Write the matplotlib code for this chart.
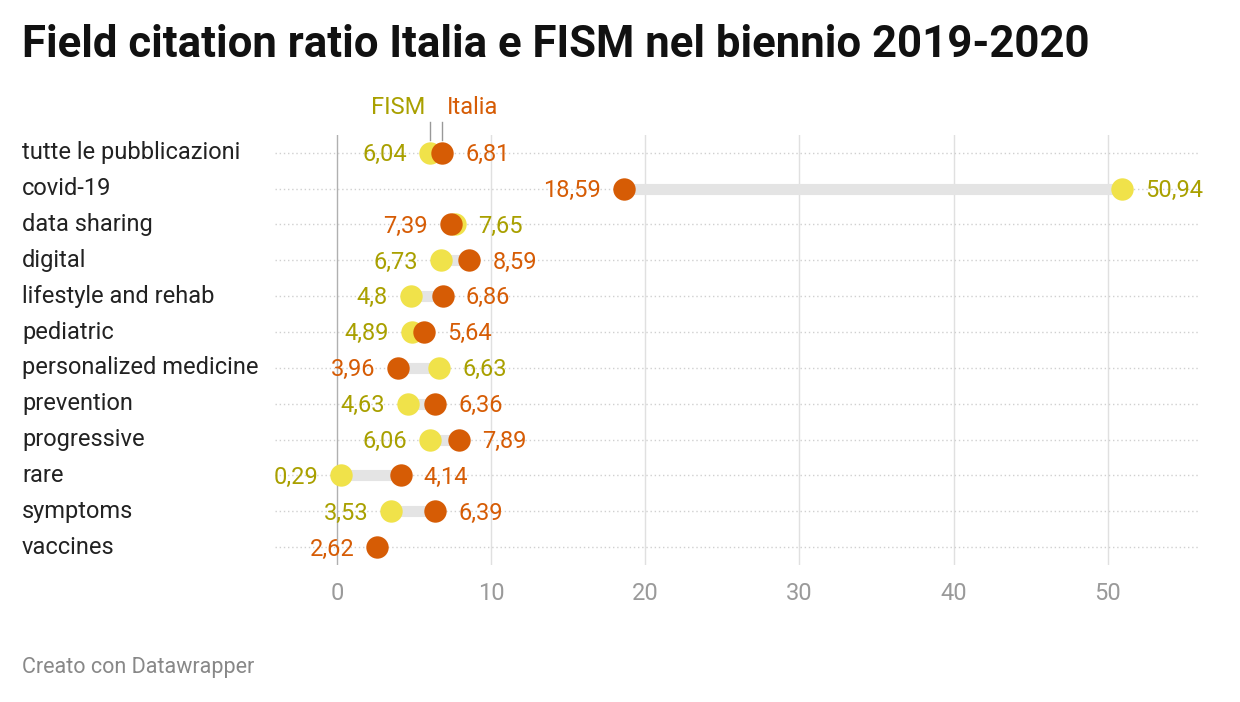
import numpy as np
import matplotlib
matplotlib.use("Agg")
import matplotlib.pyplot as plt

plt.rcParams['font.family'] = ['Roboto', 'DejaVu Sans']

categories = ["tutte le pubblicazioni", "covid-19", "data sharing", "digital",
              "lifestyle and rehab", "pediatric", "personalized medicine",
              "prevention", "progressive", "rare", "symptoms", "vaccines"]
fism = [6.04, 50.94, 7.65, 6.73, 4.8, 4.89, 6.63, 4.63, 6.06, 0.29, 3.53, np.nan]
italia = [6.81, 18.59, 7.39, 8.59, 6.86, 5.64, 3.96, 6.36, 7.89, 4.14, 6.39, 2.62]

C_FISM = "#f0e24a"
C_FISM_T = "#a9a000"
C_IT = "#d65c05"
C_IT_T = "#d65c05"
FS = 17


def fmt(v):
    return f"{v:g}".replace(".", ",")


fig = plt.figure(figsize=(12.4, 7.02), dpi=100)
ax = fig.add_axes([0.222, 0.195, 0.746, 0.613])
ax.set_xlim(-4, 56)
ax.set_ylim(len(categories) - 0.5, -0.5)

for x in [10, 20, 30, 40, 50]:
    ax.axvline(x, color="#e0e0e0", lw=1, zorder=0)
ax.axvline(0, color="#b0b0b0", lw=1, zorder=0)
for i in range(len(categories)):
    ax.axhline(i, color="#d0d0d0", lw=1, ls=(0, (1, 2)), zorder=0)

pad = 1.5
for i, (f, it) in enumerate(zip(fism, italia)):
    if not np.isnan(f):
        ax.plot([f, it], [i, i], color="#e4e4e4", lw=8, solid_capstyle="butt", zorder=1)
        ax.scatter([f], [i], s=260, color=C_FISM, zorder=2, lw=0)
    ax.scatter([it], [i], s=260, color=C_IT, zorder=3, lw=0)
    pts = [(it, C_IT_T)] if np.isnan(f) else [(f, C_FISM_T), (it, C_IT_T)]
    pts.sort(key=lambda p: p[0])
    ax.text(pts[0][0] - pad, i + 0.05, fmt(pts[0][0]), color=pts[0][1], fontsize=FS,
            ha="right", va="center")
    if len(pts) > 1:
        ax.text(pts[1][0] + pad, i + 0.05, fmt(pts[1][0]), color=pts[1][1], fontsize=FS,
                ha="left", va="center")

ax.set_yticks([])
ax.set_xticks([0, 10, 20, 30, 40, 50])
ax.tick_params(axis="x", length=0, labelsize=FS, labelcolor="#9a9a9a", pad=12)
for s in ax.spines.values():
    s.set_visible(False)

for i, c in enumerate(categories):
    y = ax.transData.transform((0, i))[1]
    fig.text(22 / 1240, y / 702, c, fontsize=FS, color="#222222", va="center", ha="left")

# legend markers above first row
ax.plot([fism[0], fism[0]], [-0.35, -0.85], color="#999999", lw=1, clip_on=False)
ax.plot([italia[0], italia[0]], [-0.35, -0.85], color="#999999", lw=1, clip_on=False)
ax.text(fism[0] - 0.3, -0.95, "FISM", color=C_FISM_T, fontsize=FS, ha="right", va="bottom")
ax.text(italia[0] + 0.3, -0.95, "Italia", color=C_IT_T, fontsize=FS, ha="left", va="bottom")

fig.text(22 / 1240, 1 - 45 / 702, "Field citation ratio Italia e FISM nel biennio 2019-2020",
         fontsize=31.5, fontweight="bold", color="#111111", va="center", ha="left")
fig.text(22 / 1240, 1 - 668 / 702, "Creato con Datawrapper", fontsize=15.5,
         color="#888888", va="center", ha="left")

fig.savefig("out.png", dpi=100)
